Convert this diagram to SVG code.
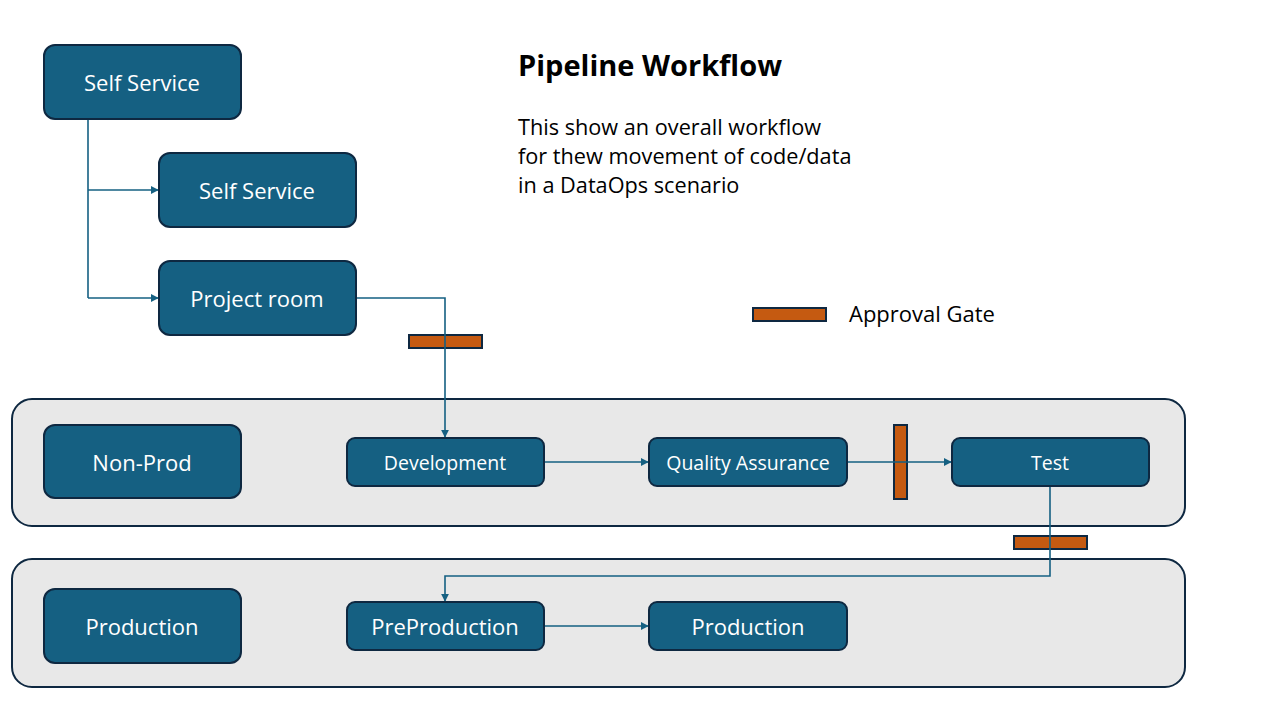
<svg xmlns="http://www.w3.org/2000/svg" width="1280" height="720" viewBox="0 0 1280 720">
<defs>
<style>
.node{fill:#156082;stroke:#0E2841;stroke-width:2}
.lane{fill:#E8E8E8;stroke:#0E2841;stroke-width:2}
.gate{fill:#C55A11;stroke:#0E2841;stroke-width:2}
.lbl{font-family:"Open Sans","Liberation Sans",sans-serif;fill:#FFFFFF;text-anchor:middle;dominant-baseline:central}
.big{font-size:22px}
.small{font-size:19.5px}
.conn{fill:none;stroke:#156082;stroke-width:1.6}
.txt{font-family:"Open Sans","Liberation Sans",sans-serif;fill:#000000}
</style>
<marker id="arr" viewBox="0 0 10 10" refX="9" refY="5" markerWidth="5" markerHeight="5" orient="auto" markerUnits="strokeWidth">
<path d="M0,0 L10,5 L0,10 z" fill="#156082"/>
</marker>
</defs>
<rect width="1280" height="720" fill="#FFFFFF"/>
<g id="lane-nonprod"><rect class="lane" x="12" y="399" width="1173" height="127" rx="20"/></g>
<g id="lane-prod"><rect class="lane" x="12" y="559" width="1173" height="128" rx="20"/></g>
<g id="title"><text class="txt" x="518" y="76" font-size="29" font-weight="bold">Pipeline Workflow</text></g>
<g id="description">
<text class="txt" x="518" y="135" font-size="21.7">This show an overall workflow</text>
<text class="txt" x="518" y="164" font-size="21.7">for thew movement of code/data</text>
<text class="txt" x="518" y="193" font-size="21.7">in a DataOps scenario</text>
</g>
<g id="legend">
<rect class="gate" x="753" y="308" width="73" height="13"/>
<text class="txt" x="849" y="322" font-size="22">Approval Gate</text>
</g>
<g id="gates">
<rect class="gate" x="409" y="335" width="73" height="13"/>
<rect class="gate" x="894" y="425" width="13" height="74"/>
<rect class="gate" x="1014" y="536" width="73" height="13"/>
</g>
<g id="connectors">
<path class="conn" d="M88,119 V298"/>
<path class="conn" d="M88,190 H158" marker-end="url(#arr)"/>
<path class="conn" d="M88,298 H158" marker-end="url(#arr)"/>
<path class="conn" d="M356,298 H445 V437" marker-end="url(#arr)"/>
<path class="conn" d="M544,462 H648" marker-end="url(#arr)"/>
<path class="conn" d="M847,462 H951" marker-end="url(#arr)"/>
<path class="conn" d="M1050,486 V576 H445 V601" marker-end="url(#arr)"/>
<path class="conn" d="M544,626 H648" marker-end="url(#arr)"/>
</g>
<g id="node-selfservice1"><rect class="node" x="44" y="45" width="197" height="74" rx="11"/><text class="lbl big" x="142" y="82">Self Service</text></g>
<g id="node-selfservice2"><rect class="node" x="159" y="153" width="197" height="74" rx="11"/><text class="lbl big" x="257" y="190">Self Service</text></g>
<g id="node-projectroom"><rect class="node" x="159" y="261" width="197" height="74" rx="11"/><text class="lbl big" x="257" y="298">Project room</text></g>
<g id="node-nonprod"><rect class="node" x="44" y="425" width="197" height="73" rx="11"/><text class="lbl big" x="142" y="462">Non-Prod</text></g>
<g id="node-development"><rect class="node" x="347" y="438" width="197" height="48" rx="8"/><text class="lbl small" x="445" y="462">Development</text></g>
<g id="node-qa"><rect class="node" x="649" y="438" width="198" height="48" rx="8"/><text class="lbl small" x="748" y="462">Quality Assurance</text></g>
<g id="node-test"><rect class="node" x="952" y="438" width="197" height="48" rx="8"/><text class="lbl small" x="1050" y="462">Test</text></g>
<g id="node-production-label"><rect class="node" x="44" y="589" width="197" height="74" rx="11"/><text class="lbl big" x="142" y="626">Production</text></g>
<g id="node-preproduction"><rect class="node" x="347" y="602" width="197" height="48" rx="8"/><text class="lbl big" x="445" y="626">PreProduction</text></g>
<g id="node-production"><rect class="node" x="649" y="602" width="198" height="48" rx="8"/><text class="lbl big" x="748" y="626">Production</text></g>
</svg>
